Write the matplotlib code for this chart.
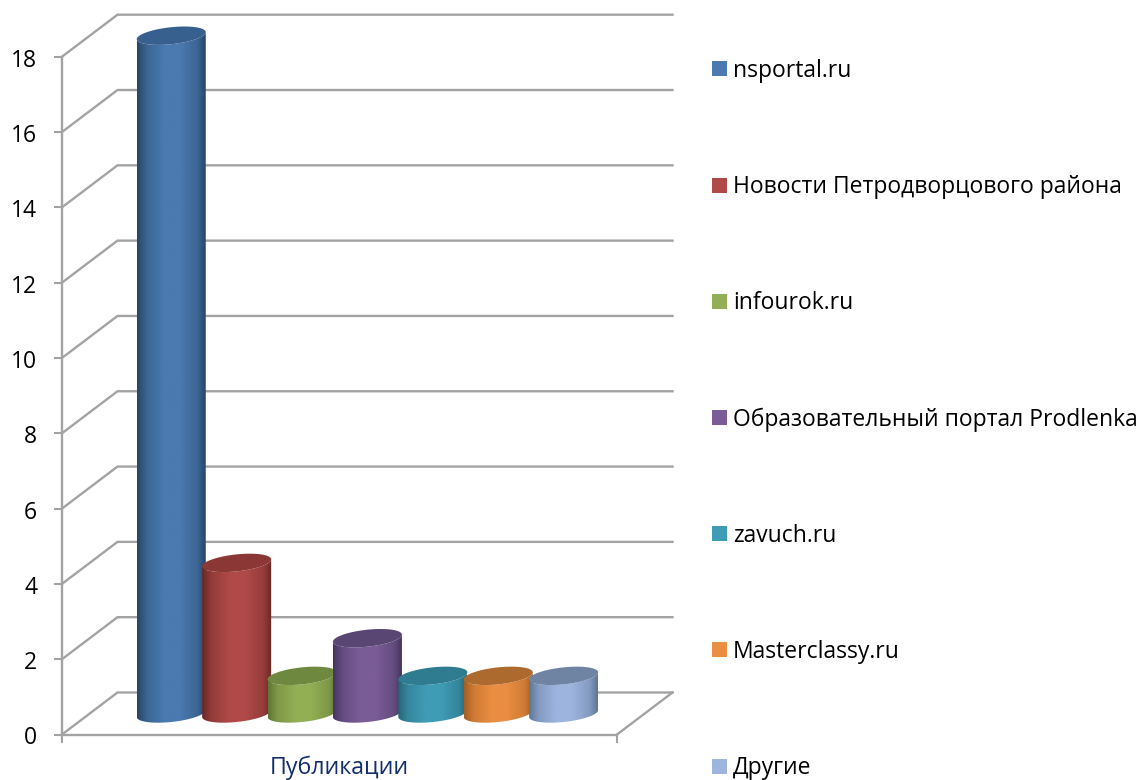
import numpy as np
import matplotlib
matplotlib.use("Agg")
import matplotlib.pyplot as plt
from matplotlib.colors import LinearSegmentedColormap, to_rgb
from matplotlib.patches import Patch, Polygon
from matplotlib.transforms import ScaledTranslation

plt.rcParams['font.family'] = ['Open Sans', 'DejaVu Sans']

names = ["nsportal.ru", "Новости Петродворцового района", "infourok.ru",
         "Образовательный портал Prodlenka", "zavuch.ru", "Masterclassy.ru", "Другие"]
values = [18, 4, 1, 2, 1, 1, 1]
y_ticks = [0, 2, 4, 6, 8, 10, 12, 14, 16, 18]
base_colors = ["#4a7ab0", "#b04a48", "#93af55", "#7a5c96", "#3f9cb5", "#ea8e42", "#9db4de"]
dark_colors = ["#274566", "#6a2725", "#5f7634", "#463560", "#266577", "#a55d22", "#5f7594"]
cap_colors = ["#38608e", "#8a3735", "#6f883f", "#5a4672", "#2f7b8f", "#ad6a2e", "#6f84a3"]

W, H = 1141, 780
GRID = "#a3a3a3"

fig = plt.figure(figsize=(W / 100, H / 100), dpi=100, facecolor="white")

# front plane of the 3d box, in pixels
left, right, top, bottom = 62, 617, 56.7, 734.5
ax = fig.add_axes([left / W, 1 - bottom / H, (right - left) / W, (bottom - top) / H])
ax.patch.set_visible(False)

px_x = 65.4   # pixels per category
px_y = (bottom - top) / 18
xmin = -(143.5 - left) / px_x
xmax = (right - 143.5) / px_x
ax.set_xlim(xmin, xmax)
ax.set_ylim(0, 18)

depth_x = 55.5 / px_x
depth_y = 42 / px_y

# back wall and side wall grid
for v in y_ticks:
    ax.plot([xmin, xmin + depth_x, xmax + depth_x], [v, v + depth_y, v + depth_y],
            color=GRID, lw=1.7, clip_on=False, zorder=1, solid_joinstyle="miter")
ax.plot([xmax + depth_x, xmax], [depth_y, 0], color=GRID, lw=1.7, clip_on=False, zorder=1)

for s in ["top", "right"]:
    ax.spines[s].set_visible(False)
for s in ["left", "bottom"]:
    ax.spines[s].set_color(GRID)
    ax.spines[s].set_linewidth(1.7)

ax.set_yticks(y_ticks)
ax.tick_params(axis="y", length=5.8, width=1.5, color=GRID, pad=12, labelsize=16.5, labelcolor="black")
for lab in ax.get_yticklabels():
    lab.set_transform(lab.get_transform() + ScaledTranslation(0, -1 / 100, fig.dpi_scale_trans))
ax.set_xticks([xmin, xmax])
ax.set_xticklabels([])
ax.tick_params(axis="x", length=5.8, width=1.5, color=GRID)
ax.text((xmin + xmax) / 2 - 0.01, -0.89, "Публикации", color="#122f6b", fontsize=16.7,
        ha="center", va="center", clip_on=False)

# cylinders
a = 34.5 / px_x
b = 8.5 / px_y
tilt = 3.5 / px_y
t = np.linspace(0, 2 * np.pi, 181)
grad = np.linspace(0, 1, 256)[None, :]


def mix(c1, c2, w):
    return tuple((1 - w) * p + w * q for p, q in zip(to_rgb(c1), to_rgb(c2)))


for i, v in enumerate(values):
    cx = i + depth_x / 2
    y0 = depth_y / 2
    y1 = y0 + v
    ex = a * np.cos(t)
    ey = tilt * np.cos(t) + b * np.sin(t)
    # lower half of the ellipse, left to right
    lo = np.linspace(np.pi, 2 * np.pi, 91)
    lx = a * np.cos(lo)
    ly = tilt * np.cos(lo) + b * np.sin(lo)
    body_x = np.r_[cx + lx, cx + lx[::-1]]
    body_y = np.r_[y0 + ly, y1 + ly[::-1]]

    dark = dark_colors[i]
    base = base_colors[i]
    cmap = LinearSegmentedColormap.from_list(
        "c%d" % i, [(0, dark), (0.14, mix(dark, base, 0.6)), (0.4, base), (0.62, base),
                    (0.88, mix(dark, base, 0.6)), (1, dark)])
    im = ax.imshow(grad, cmap=cmap, extent=(cx - a, cx + a, y0 - 2 * b, y1 + b),
                   aspect="auto", zorder=3 + i * 0.1, interpolation="bilinear")
    poly = Polygon(np.c_[body_x, body_y], closed=True, transform=ax.transData,
                   fc="none", ec="none")
    ax.add_patch(poly)
    poly.set_clip_on(False)
    im.set_clip_box(fig.bbox)
    im.set_clip_path(poly)
    ax.fill(cx + ex, y1 + ey, color=cap_colors[i], lw=0, clip_on=False, zorder=3.05 + i * 0.1)

ax.set_xlim(xmin, xmax)
ax.set_ylim(0, 18)

handles = [Patch(fc=c, ec="none") for c in base_colors]
leg = fig.legend(handles, names, loc="upper left", bbox_to_anchor=(712 / W, 1 - 59 / H),
                 frameon=False, fontsize=16.5, borderaxespad=0, borderpad=0,
                 handlelength=0.66, handleheight=0.63, handletextpad=0.26, labelspacing=4.02)

fig.savefig("out.png", dpi=100)
